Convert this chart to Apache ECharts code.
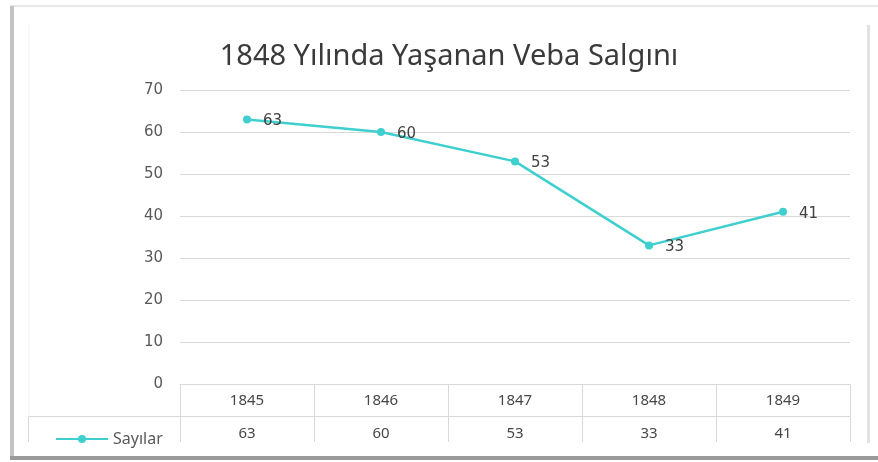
<!DOCTYPE html>
<html>
<head>
<meta charset="utf-8">
<script src="https://cdn.jsdelivr.net/npm/echarts@6/dist/echarts.min.js"></script>
<style>
  html, body { margin: 0; padding: 0; background: #fff; }
  #chart { width: 878px; height: 462px; }
</style>
</head>
<body>
<div id="chart"></div>
<script>
// veri
const years = ['1845', '1846', '1847', '1848', '1849']
const sayilar = [63, 60, 53, 33, 41]
const yTicks = { min: 0, max: 70, interval: 10 }
const chartTitle = '1848 Yılında Yaşanan Veba Salgını'
const seriesName = 'Sayılar'

const lineColor = '#3fcfcf'
const gridColor = '#d9d9d9'
const textColor = '#595959'

const myEcharts = echarts.init(document.getElementById('chart'))

const option = {
  animation: false,
  title: {
    text: chartTitle,
    left: 444,
    top: 37,
    textAlign: 'center',
    textStyle: { fontFamily: 'Noto Sans', fontSize: 29, fontWeight: 'normal', color: '#3a3a3a' }
  },
  legend: {
    left: 50,
    top: 426,
    itemWidth: 52,
    itemHeight: 10,
    itemGap: 0,
    textStyle: { fontFamily: 'Noto Sans', fontSize: 16, color: textColor },
    data: [seriesName]
  },
  grid: { left: 180, right: 28, top: 90, bottom: 78 },
  xAxis: [
    {
      type: 'category',
      data: years,
      boundaryGap: true,
      axisLine: { lineStyle: { color: gridColor } },
      axisTick: { show: true, length: 58, lineStyle: { color: gridColor } },
      axisLabel: { margin: 9, fontFamily: 'Noto Sans', fontSize: 15, color: '#474747' }
    },
    {
      // tablo ikinci satır
      type: 'category',
      position: 'bottom',
      offset: 32,
      data: sayilar.map(String),
      boundaryGap: true,
      axisLine: { show: true, lineStyle: { color: gridColor } },
      axisTick: { show: false },
      axisLabel: { margin: 10, fontFamily: 'Noto Sans', fontSize: 15, color: '#474747' },
      splitLine: { show: false }
    }
  ],
  yAxis: {
    type: 'value',
    min: yTicks.min,
    max: yTicks.max,
    interval: yTicks.interval,
    axisLine: { show: false },
    axisTick: { show: false },
    splitLine: { lineStyle: { color: gridColor } },
    axisLabel: { margin: 17, fontFamily: 'DejaVu Sans', fontSize: 15, color: textColor }
  },
  series: [
    {
      name: seriesName,
      type: 'line',
      xAxisIndex: 0,
      data: sayilar,
      symbol: 'circle',
      symbolSize: 8,
      lineStyle: { color: lineColor, width: 2.5 },
      itemStyle: { color: lineColor },
      label: {
        show: true,
        position: 'right',
        distance: 12,
        offset: [0, 2],
        fontFamily: 'DejaVu Sans',
        fontSize: 15,
        color: '#404040'
      }
    }
  ],
  graphic: [
    // çerçeve
    { type: 'rect', shape: { x: 10, y: 5, width: 868, height: 2 }, style: { fill: '#e8e8e8' }, silent: true },
    { type: 'rect', shape: { x: 10, y: 6, width: 4, height: 454 }, style: { fill: '#c4c4c4' }, silent: true },
    { type: 'rect', shape: { x: 10, y: 456, width: 868, height: 4 }, style: { fill: '#9a9a9a' }, silent: true },
    { type: 'rect', shape: { x: 867, y: 25, width: 3, height: 418 }, style: { fill: '#e2e2e2' }, silent: true },
    { type: 'line', shape: { x1: 29, y1: 25, x2: 29, y2: 416 }, style: { stroke: '#f3f3f3', lineWidth: 1 }, silent: true },
    // tablo sol kısmı
    { type: 'polyline', shape: { points: [[28.5, 442], [28.5, 416.5], [180, 416.5]] }, style: { stroke: gridColor, lineWidth: 1, fill: null }, silent: true }
  ]
}

myEcharts.setOption(option)
</script>
</body>
</html>
